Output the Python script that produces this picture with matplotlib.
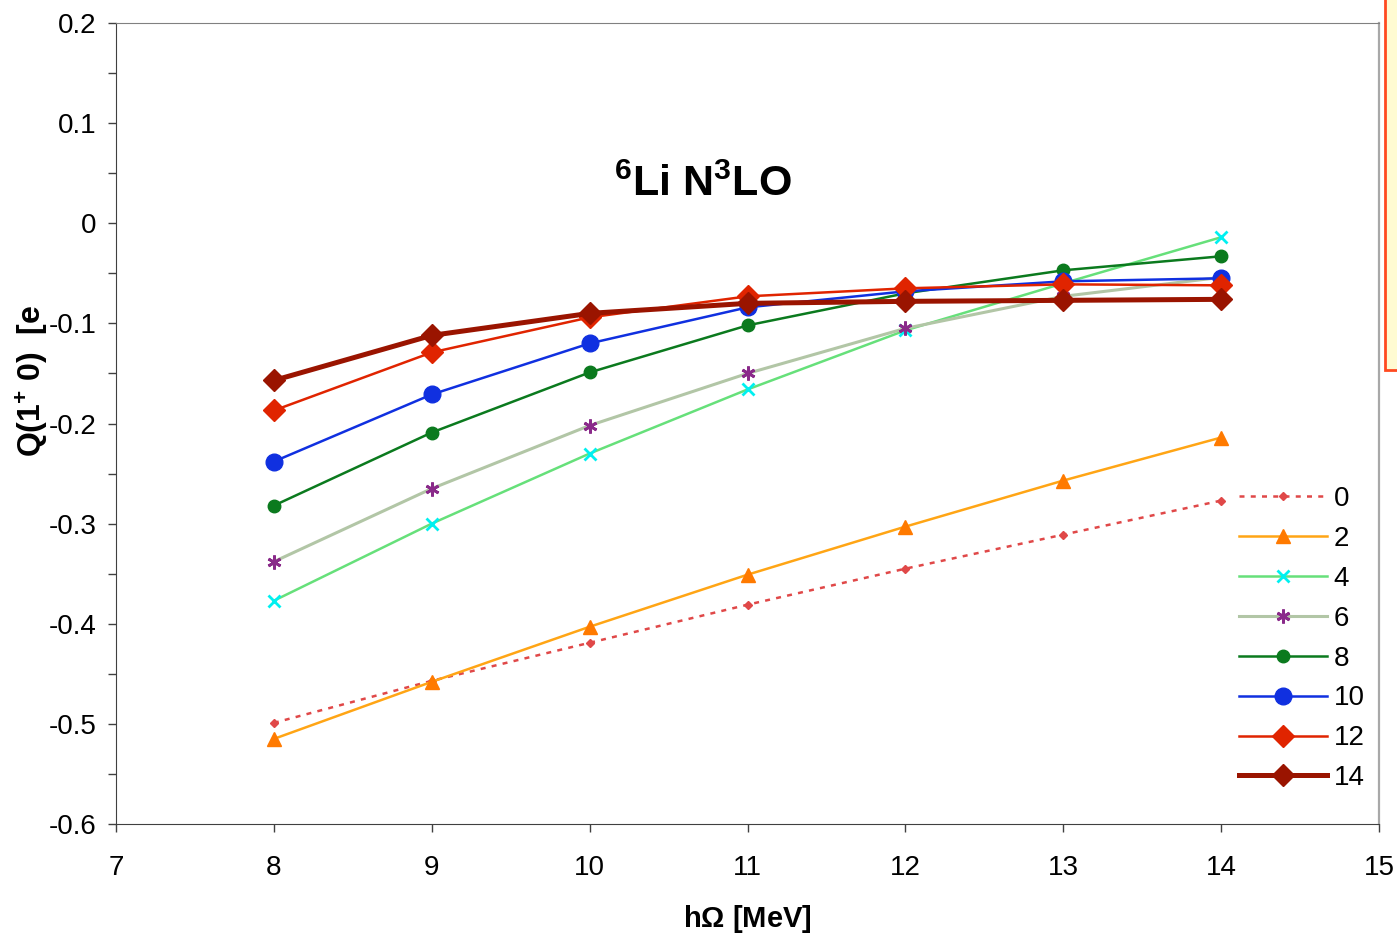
import matplotlib.pyplot as plt
from matplotlib.patches import Rectangle

plt.rcParams['font.family'] = ['Liberation Sans', 'DejaVu Sans']
plt.rcParams['mathtext.fontset'] = 'custom'
plt.rcParams['mathtext.rm'] = 'Liberation Sans'
plt.rcParams['mathtext.bf'] = 'Liberation Sans:bold'

# hbar-Omega values, MeV
hw = [8, 9, 10, 11, 12, 13, 14]

# Q(1+ 0) for each Nmax
q_n0 = [-0.499, -0.457, -0.419, -0.381, -0.345, -0.311, -0.277]
q_n2 = [-0.515, -0.458, -0.403, -0.351, -0.303, -0.257, -0.214]
q_n4 = [-0.377, -0.300, -0.230, -0.166, -0.107, -0.060, -0.014]
q_n6 = [-0.338, -0.265, -0.202, -0.150, -0.105, -0.073, -0.054]
q_n8 = [-0.282, -0.209, -0.149, -0.102, -0.070, -0.047, -0.033]
q_n10 = [-0.238, -0.171, -0.120, -0.084, -0.068, -0.058, -0.055]
q_n12 = [-0.187, -0.129, -0.094, -0.073, -0.065, -0.061, -0.062]
q_n14 = [-0.157, -0.112, -0.090, -0.080, -0.078, -0.077, -0.076]

labels = ['0', '2', '4', '6', '8', '10', '12', '14']

fig = plt.figure(figsize=(13.97, 9.35), dpi=100)
ax = fig.add_axes([116 / 1397, 1 - 824 / 935, 1263 / 1397, 801 / 935])

ax.plot(hw, q_n0, color='#e04848', lw=1.8, ls=(0, (2, 2.5)), marker='D', ms=4,
        mfc='#e04848', mec='#e04848', label=labels[0])
ax.plot(hw, q_n2, color='#ffa515', lw=1.8, marker='^', ms=10,
        mfc='#ff7a00', mec='#ff7a00', label=labels[1])
ax.plot(hw, q_n4, color='#66e07a', lw=1.8, marker='x', ms=9, mew=2,
        mfc='#00f0f0', mec='#00f0f0', label=labels[2])
ax.plot(hw, q_n6, color='#b2c6a6', lw=2.2, marker=(6, 2, 0), ms=10, mew=2,
        mfc='#8a2a8a', mec='#8a2a8a', label=labels[3])
ax.plot(hw, q_n8, color='#0b7a1e', lw=1.8, marker='o', ms=9,
        mfc='#0b7a1e', mec='#0b7a1e', label=labels[4])
ax.plot(hw, q_n10, color='#1030e0', lw=1.8, marker='o', ms=12,
        mfc='#1030e0', mec='#1030e0', label=labels[5])
ax.plot(hw, q_n12, color='#e02400', lw=1.8, marker='D', ms=11,
        mfc='#e02400', mec='#e02400', label=labels[6])
ax.plot(hw, q_n14, color='#9a1400', lw=3.6, marker='D', ms=11,
        mfc='#9a1400', mec='#9a1400', label=labels[7])

ax.set_xlim(7, 15)
ax.set_ylim(-0.6, 0.2)
ax.set_xticks(range(7, 16))
ax.set_yticks([-0.6, -0.5, -0.4, -0.3, -0.2, -0.1, 0, 0.1, 0.2])
ax.set_yticklabels(['-0.6', '-0.5', '-0.4', '-0.3', '-0.2', '-0.1', '0', '0.1', '0.2'])
ax.set_yticks([-0.55, -0.45, -0.35, -0.25, -0.15, -0.05, 0.05, 0.15], minor=True)
ax.tick_params(axis='both', which='both', direction='out', length=6, width=1,
               color='#404040', labelsize=20)
ax.tick_params(axis='x', pad=16)
ax.tick_params(axis='y', pad=8)

for side in ['left', 'bottom']:
    ax.spines[side].set_color('#404040')
ax.spines['top'].set_color('#808080')
ax.spines['right'].set_color('#a8a8a8')
ax.spines['right'].set_linewidth(1.6)

ax.set_xlabel(r'h$\mathbf{\Omega}$ [MeV]', fontsize=21, fontweight='bold', labelpad=16)
ax.set_ylabel(r'Q(1$^{\mathbf{+}}$ 0)  [e', fontsize=23, fontweight='bold')
ax.yaxis.set_label_coords(-0.052, 0.553)

ax.text(10.72, 0.038, r'$^{\mathbf{6}}$Li N$^{\mathbf{3}}$LO', fontsize=31,
        fontweight='bold', ha='center', va='center')

ax.legend(loc='upper left', bbox_to_anchor=(0.889, 0.422), frameon=False,
          fontsize=20, handlelength=3.17, handletextpad=0.25, labelspacing=0.5,
          borderpad=0, borderaxespad=0)

# note box at the right edge
fig.patches.append(Rectangle((1385 / 1397, 1 - 370 / 935), 0.05, 0.5,
                             transform=fig.transFigure, facecolor='#fffbd2',
                             edgecolor='#ff4a20', lw=2, zorder=5))

fig.savefig('out.png', dpi=100)
